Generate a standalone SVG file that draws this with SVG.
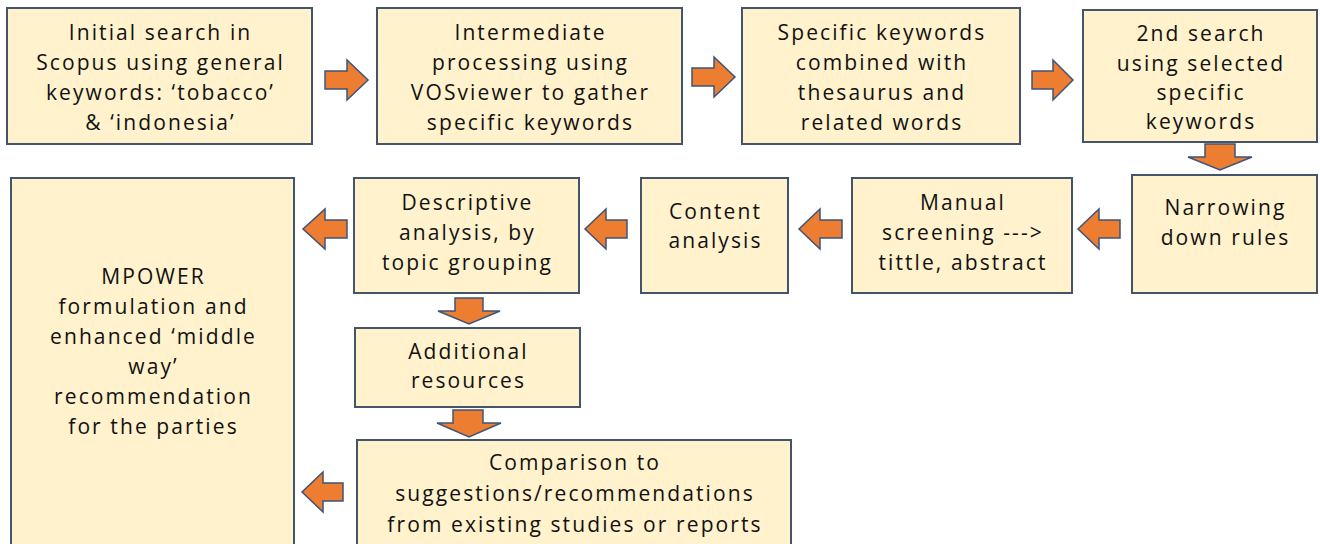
<svg xmlns="http://www.w3.org/2000/svg" width="1320" height="544" viewBox="0 0 1320 544">
<style>
.box{fill:#FFF2CC;stroke:#44546A;stroke-width:2}
.arr{fill:#ED7D31;stroke:#3E5478;stroke-width:1.5;stroke-linejoin:miter}
text{font-family:"Open Sans","Liberation Sans",sans-serif;font-size:21px;letter-spacing:2.1px;fill:#111111;text-anchor:middle}
</style>
<rect width="1320" height="544" fill="#ffffff"/>
<g id="connectors">
<polygon class="arr" points="325,71 347,71 347,60 368,80 347,100 347,89 325,89"/>
<polygon class="arr" points="692,68 714,68 714,57 735,77 714,97 714,86 692,86"/>
<polygon class="arr" points="1032,71 1053,71 1053,60 1073,80 1053,100 1053,89 1032,89"/>
<polygon class="arr" points="1205,144 1235,144 1235,157 1252,157 1220,170 1188,157 1205,157"/>
<polygon class="arr" points="1120,220 1099,220 1099,209 1078,229 1099,249 1099,238 1120,238"/>
<polygon class="arr" points="842,220 820,220 820,209 799,229 820,249 820,238 842,238"/>
<polygon class="arr" points="627,220 606,220 606,209 585,229 606,249 606,238 627,238"/>
<polygon class="arr" points="347,220 325,220 325,209 303,229 325,249 325,238 347,238"/>
<polygon class="arr" points="455,298 483,298 483,311 500,311 469,324 438,311 455,311"/>
<polygon class="arr" points="453,410 483,410 483,423 501,423 469,437 437,423 453,423"/>
<polygon class="arr" points="343,483 323,483 323,472 302,492 323,512 323,501 343,501"/>
</g>
<g id="n1"><rect class="box" x="7" y="8" width="305" height="136"/>
<text x="160.5" y="40">Initial search in</text><text x="160.5" y="70">Scopus using general</text><text x="160.5" y="100">keywords: ‘tobacco’</text><text x="160.5" y="130">&amp; ‘indonesia’</text></g>
<g id="n2"><rect class="box" x="377" y="8" width="305" height="136"/>
<text x="530.5" y="40">Intermediate</text><text x="530.5" y="70">processing using</text><text x="530.5" y="100">VOSviewer to gather</text><text x="530.5" y="130">specific keywords</text></g>
<g id="n3"><rect class="box" x="742" y="8" width="278" height="136"/>
<text x="882" y="40">Specific keywords</text><text x="882" y="70">combined with</text><text x="882" y="100">thesaurus and</text><text x="882" y="130">related words</text></g>
<g id="n4"><rect class="box" x="1083" y="10" width="234" height="132"/>
<text x="1201" y="41">2nd search</text><text x="1201" y="71">using selected</text><text x="1201" y="100">specific</text><text x="1201" y="129">keywords</text></g>
<g id="n5"><rect class="box" x="1132" y="175" width="185" height="118"/>
<text x="1225.5" y="215">Narrowing</text><text x="1225.5" y="245">down rules</text></g>
<g id="n6"><rect class="box" x="852" y="178" width="220" height="115"/>
<text x="963" y="210">Manual</text><text x="963" y="240">screening ---&gt;</text><text x="963" y="270">tittle, abstract</text></g>
<g id="n7"><rect class="box" x="641" y="178" width="147" height="115"/>
<text x="715.5" y="219">Content</text><text x="715.5" y="248">analysis</text></g>
<g id="n8"><rect class="box" x="354" y="178" width="225" height="115"/>
<text x="467.5" y="210">Descriptive</text><text x="467.5" y="240">analysis, by</text><text x="467.5" y="270">topic grouping</text></g>
<g id="n9"><rect class="box" x="11" y="178" width="283" height="372"/>
<text x="153.5" y="284">MPOWER</text><text x="153.5" y="314">formulation and</text><text x="153.5" y="344">enhanced ‘middle</text><text x="153.5" y="374">way’</text><text x="153.5" y="404">recommendation</text><text x="153.5" y="434">for the parties</text></g>
<g id="n10"><rect class="box" x="355" y="328" width="225" height="79"/>
<text x="468.5" y="359">Additional</text><text x="468.5" y="388">resources</text></g>
<g id="n11"><rect class="box" x="357" y="440" width="434" height="112"/>
<text x="575" y="470">Comparison to</text><text x="575" y="501">suggestions/recommendations</text><text x="575" y="532">from existing studies or reports</text></g>
</svg>
